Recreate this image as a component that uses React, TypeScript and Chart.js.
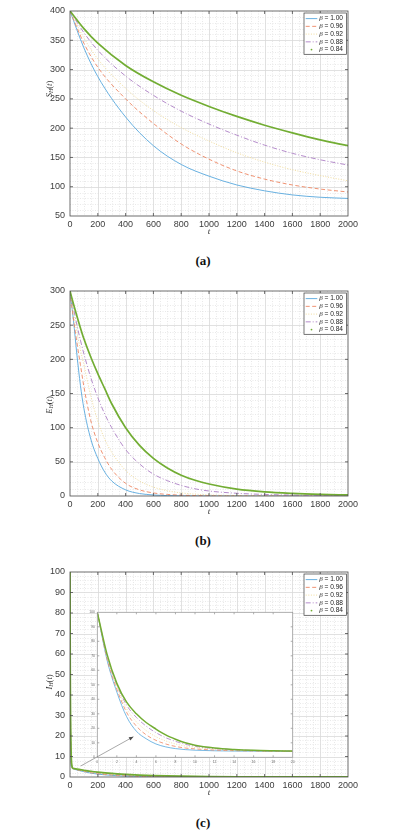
import React, { useEffect, useRef } from 'react';
import { Chart, registerables } from 'chart.js';

Chart.register(...registerables);

// ---------------- Data ----------------
const betaValues = ['1.00', '0.96', '0.92', '0.88', '0.84'];

// (a) S_H(t)
const tA = [0, 100, 200, 400, 600, 800, 1000, 1200, 1400, 1600, 1800, 2000];
const sH_b100 = [400, 337, 288, 219, 170, 138, 118, 103, 93, 86, 82, 80];
const sH_b096 = [400, 345, 304, 250, 208, 173, 147, 127, 113, 103, 96, 91];
const sH_b092 = [400, 354, 318, 268, 230, 201, 178, 158, 142, 129, 119, 110];
const sH_b088 = [400, 363, 333, 289, 256, 229, 207, 188, 171, 157, 146, 137];
const sH_b084 = [400, 370, 345, 307, 279, 256, 237, 220, 205, 192, 180, 170];

// (b) E_H(t)
const tB = [0, 25, 50, 75, 100, 150, 200, 250, 300, 400, 500, 600, 700, 800, 900, 1000, 1200, 1400, 1600, 1800, 2000];
const eH_b100 = [300, 257, 206, 162, 128, 83, 55, 35, 22, 9, 3.6, 1.5, 0.6, 0.25, 0.1, 0.04, 0, 0, 0, 0, 0];
const eH_b096 = [300, 259, 224, 192, 160, 110, 78, 56, 39, 18.5, 9, 4.5, 2.3, 1.2, 0.6, 0.3, 0.1, 0, 0, 0, 0];
const eH_b092 = [300, 268, 240, 214, 192, 146, 110, 83, 64, 37.5, 22, 13, 7.7, 4.5, 2.7, 1.6, 0.6, 0.3, 0.15, 0.05, 0];
const eH_b088 = [300, 275, 250, 228, 208, 173, 144, 120, 100, 68, 47, 32, 22.5, 15.5, 10.5, 7.3, 4, 2.3, 1.4, 0.9, 0.6];
const eH_b084 = [300, 281, 263, 246, 230, 203, 179, 157, 135, 100, 74, 55, 41, 30.5, 23, 17.5, 10, 6, 3.8, 2.4, 1.5];

// (c) I_H(t): early part (also shown in the inset) and late part
const tInset = [0, 1, 2, 3, 4, 5, 6, 7, 8, 9, 10, 12, 14, 16, 18, 20];
const iH_b100_early = [100, 67, 45, 28, 18, 12.8, 9.2, 7.2, 6.0, 5.3, 4.9, 4.5, 4.3, 4.2, 4.1, 4.05];
const iH_b096_early = [100, 68, 47, 31, 21.5, 15.5, 11.7, 9.2, 7.5, 6.4, 5.8, 5.0, 4.6, 4.4, 4.2, 4.1];
const iH_b092_early = [100, 69, 48.5, 33.5, 24.5, 18.5, 14.2, 11.3, 9.2, 7.8, 6.8, 5.6, 4.9, 4.5, 4.3, 4.2];
const iH_b088_early = [100, 70, 50, 36, 27.5, 21.5, 17, 13.5, 11, 9, 7.6, 6.0, 5.2, 4.7, 4.4, 4.25];
const iH_b084_early = [100, 71, 51, 38, 30, 24, 19.5, 15.5, 12.5, 10, 8.3, 6.4, 5.4, 4.8, 4.5, 4.3];

const tLateC = [30, 50, 100, 150, 200, 300, 400, 500, 600, 800, 1000, 1200, 1400, 1600, 1800, 2000];
const iH_b100_late = [3.8, 3.4, 2.6, 1.9, 1.4, 0.8, 0.45, 0.25, 0.15, 0.05, 0.02, 0, 0, 0, 0, 0];
const iH_b096_late = [3.9, 3.5, 2.8, 2.1, 1.6, 1.0, 0.6, 0.35, 0.22, 0.1, 0.04, 0.02, 0.01, 0, 0, 0];
const iH_b092_late = [4.0, 3.6, 3.0, 2.4, 1.9, 1.25, 0.8, 0.5, 0.33, 0.15, 0.07, 0.03, 0.02, 0.01, 0, 0];
const iH_b088_late = [4.05, 3.7, 3.1, 2.6, 2.1, 1.45, 1.0, 0.7, 0.48, 0.24, 0.12, 0.06, 0.03, 0.02, 0.01, 0];
const iH_b084_late = [4.1, 3.8, 3.3, 2.8, 2.4, 1.75, 1.3, 0.95, 0.7, 0.4, 0.23, 0.13, 0.08, 0.05, 0.03, 0.02];

// arrow annotation in inset data units (tail, head)
const arrowTail = [-1.7, -6];
const arrowHead = [3.7, 14.2];

// ---------------- Styles ----------------
const LINE_COLORS = ['#58a8de', '#ee8763', '#f1dc9c', '#ad7fc5', '#72ad33'];
const LINE_DASH: number[][] = [[], [4, 2.5], [1, 1.6], [5, 2, 1, 2], []];
const LINE_WIDTH = [0.9, 0.9, 1.0, 0.9, 1.7];
const AXIS_COLOR = '#4a4a4a';
const TICK_COLOR = '#3c3c3c';
const SANS = '"Liberation Sans", Arial, Helvetica, sans-serif';
const SERIF = '"Liberation Serif", "Times New Roman", "DejaVu Serif", serif';

function buildDatasets(t: number[], series: number[][], wScale = 1) {
  return series.map((vals, i) => ({
    label: 'β = ' + betaValues[i],
    data: vals.map((v, k) => ({ x: t[k], y: v })),
    borderColor: LINE_COLORS[i],
    backgroundColor: LINE_COLORS[i],
    borderDash: LINE_DASH[i],
    borderWidth: LINE_WIDTH[i] * wScale,
    pointRadius: 0,
    cubicInterpolationMode: 'monotone',
    fill: false,
    order: 4 - i,
  }));
}

function isMajor(v: number, step: number) {
  return Math.abs(v / step - Math.round(v / step)) < 1e-6;
}

function drawYLabel(ctx: any, cx: number, cy: number, main: string, sub: string) {
  ctx.save();
  ctx.translate(cx, cy);
  ctx.rotate(-Math.PI / 2);
  ctx.fillStyle = '#333';
  ctx.textBaseline = 'middle';
  ctx.textAlign = 'left';
  const parts: [string, string, number][] = [
    [main, 'italic 8.5px ' + SERIF, 0],
    [sub, 'italic 6px ' + SERIF, 2],
    ['(', '8.5px ' + SERIF, 0],
    ['t', 'italic 8.5px ' + SERIF, 0],
    [')', '8.5px ' + SERIF, 0],
  ];
  let total = 0;
  const widths = parts.map(([s, f]) => {
    ctx.font = f;
    const w = ctx.measureText(s).width;
    total += w;
    return w;
  });
  let x = -total / 2;
  parts.forEach(([s, f, dy], i) => {
    ctx.font = f;
    ctx.fillText(s, x, dy);
    x += widths[i];
  });
  ctx.restore();
}

function drawLegend(ctx: any, ca: any) {
  const w = 42.5;
  const h = 41.3;
  const left = ca.right - 1.5 - w;
  const top = ca.top + 2;
  ctx.save();
  ctx.fillStyle = '#ffffff';
  ctx.fillRect(left, top, w, h);
  ctx.strokeStyle = '#3a3a3a';
  ctx.lineWidth = 0.7;
  ctx.strokeRect(left, top, w, h);
  for (let i = 0; i < 5; i++) {
    const yy = top + 5.6 + i * 7.75;
    if (i === 4) {
      ctx.fillStyle = LINE_COLORS[i];
      ctx.beginPath();
      ctx.arc(left + 7.5, yy, 0.9, 0, Math.PI * 2);
      ctx.fill();
    } else {
      ctx.strokeStyle = LINE_COLORS[i];
      ctx.lineWidth = LINE_WIDTH[i];
      ctx.setLineDash(LINE_DASH[i]);
      ctx.beginPath();
      ctx.moveTo(left + 1.7, yy);
      ctx.lineTo(left + 13.3, yy);
      ctx.stroke();
      ctx.setLineDash([]);
    }
    ctx.fillStyle = '#222';
    ctx.textBaseline = 'middle';
    ctx.textAlign = 'left';
    ctx.font = 'italic 7px ' + SERIF;
    ctx.fillText('β', left + 15.2, yy);
    const bw = ctx.measureText('β').width;
    ctx.font = '6.6px ' + SANS;
    ctx.fillText(' = ' + betaValues[i], left + 15.2 + bw, yy);
  }
  ctx.restore();
}

const matlabPlugin: any = {
  id: 'matlab',
  beforeDatasetsDraw(chart: any, _a: any, o: any) {
    const { ctx, chartArea: ca } = chart;
    const xs = chart.scales.x;
    const ys = chart.scales.y;
    ctx.save();
    ctx.fillStyle = '#ffffff';
    ctx.fillRect(ca.left, ca.top, ca.right - ca.left, ca.bottom - ca.top);
    if (o.grid) {
      // minor grid
      ctx.setLineDash([1, 1.5]);
      ctx.strokeStyle = '#e0e0e0';
      ctx.lineWidth = 0.7;
      ctx.beginPath();
      for (let k = 1; ; k++) {
        const v = xs.min + k * o.xMinor;
        if (v >= xs.max - 1e-9) break;
        if (isMajor(v, o.xMajor)) continue;
        const p = Math.round(xs.getPixelForValue(v)) + 0.5;
        ctx.moveTo(p, ca.top);
        ctx.lineTo(p, ca.bottom);
      }
      for (let k = 1; ; k++) {
        const v = ys.min + k * o.yMinor;
        if (v >= ys.max - 1e-9) break;
        if (isMajor(v, o.yMajor)) continue;
        const p = Math.round(ys.getPixelForValue(v)) + 0.5;
        ctx.moveTo(ca.left, p);
        ctx.lineTo(ca.right, p);
      }
      ctx.stroke();
      // major grid
      ctx.setLineDash([]);
      ctx.strokeStyle = '#d9d9d9';
      ctx.lineWidth = 0.8;
      ctx.beginPath();
      for (let k = 1; ; k++) {
        const v = xs.min + k * o.xMajor;
        if (v >= xs.max - 1e-9) break;
        const p = Math.round(xs.getPixelForValue(v)) + 0.5;
        ctx.moveTo(p, ca.top);
        ctx.lineTo(p, ca.bottom);
      }
      for (let k = 1; ; k++) {
        const v = ys.min + k * o.yMajor;
        if (v >= ys.max - 1e-9) break;
        const p = Math.round(ys.getPixelForValue(v)) + 0.5;
        ctx.moveTo(ca.left, p);
        ctx.lineTo(ca.right, p);
      }
      ctx.stroke();
    }
    ctx.restore();
  },
  afterDatasetsDraw(chart: any, _a: any, o: any) {
    const { ctx, chartArea: ca } = chart;
    const xs = chart.scales.x;
    const ys = chart.scales.y;
    ctx.save();
    ctx.setLineDash([]);
    ctx.strokeStyle = o.axisColor || AXIS_COLOR;
    ctx.lineWidth = 0.8;
    ctx.strokeRect(ca.left, ca.top, ca.right - ca.left, ca.bottom - ca.top);
    const tl = o.tickLen || 3;
    ctx.beginPath();
    for (let k = 1; ; k++) {
      const v = xs.min + k * o.xMajor;
      if (v >= xs.max - 1e-9) break;
      const p = xs.getPixelForValue(v);
      ctx.moveTo(p, ca.bottom);
      ctx.lineTo(p, ca.bottom - tl);
      ctx.moveTo(p, ca.top);
      ctx.lineTo(p, ca.top + tl);
    }
    for (let k = 1; ; k++) {
      const v = ys.min + k * o.yMajor;
      if (v >= ys.max - 1e-9) break;
      const p = ys.getPixelForValue(v);
      ctx.moveTo(ca.left, p);
      ctx.lineTo(ca.left + tl, p);
      ctx.moveTo(ca.right, p);
      ctx.lineTo(ca.right - tl, p);
    }
    ctx.stroke();

    if (o.xlabel) {
      ctx.fillStyle = '#333';
      ctx.font = 'italic 9px ' + SERIF;
      ctx.textAlign = 'center';
      ctx.textBaseline = 'middle';
      ctx.fillText('t', (ca.left + ca.right) / 2, ca.bottom + 15.5);
    }
    if (o.ylabel) {
      drawYLabel(ctx, ca.left - 20.5, ca.top + o.ylabelOffset, o.ylabel, 'H');
    }
    if (o.legend) drawLegend(ctx, ca);
    if (o.arrow) {
      const x0 = xs.getPixelForValue(arrowTail[0]);
      const y0 = ys.getPixelForValue(arrowTail[1]);
      const x1 = xs.getPixelForValue(arrowHead[0]);
      const y1 = ys.getPixelForValue(arrowHead[1]);
      const ang = Math.atan2(y1 - y0, x1 - x0);
      ctx.strokeStyle = '#6e6e6e';
      ctx.fillStyle = '#4a4a4a';
      ctx.lineWidth = 0.6;
      ctx.beginPath();
      ctx.moveTo(x0, y0);
      ctx.lineTo(x1, y1);
      ctx.stroke();
      const L = 4.5;
      const W = 1.8;
      ctx.beginPath();
      ctx.moveTo(x1, y1);
      ctx.lineTo(x1 - L * Math.cos(ang) + W * Math.sin(ang), y1 - L * Math.sin(ang) - W * Math.cos(ang));
      ctx.lineTo(x1 - L * Math.cos(ang) - W * Math.sin(ang), y1 - L * Math.sin(ang) + W * Math.cos(ang));
      ctx.closePath();
      ctx.fill();
    }
    ctx.restore();
  },
};

function mainConfig(datasets: any[], yMin: number, yMax: number, yStep: number, plug: any) {
  return {
    type: 'line',
    data: { datasets },
    options: {
      responsive: false,
      animation: false,
      events: [],
      layout: { padding: { left: 0, right: 51, top: 11, bottom: 0 } },
      scales: {
        x: {
          type: 'linear',
          min: 0,
          max: 2000,
          grid: { display: false, drawTicks: false },
          border: { display: false },
          ticks: {
            stepSize: 200,
            maxRotation: 0,
            autoSkip: false,
            padding: 3,
            color: TICK_COLOR,
            font: { family: SANS, size: 9 },
            callback: (v: any) => String(v),
          },
          afterFit: (s: any) => {
            s.height = 29;
          },
        },
        y: {
          type: 'linear',
          min: yMin,
          max: yMax,
          grid: { display: false, drawTicks: false },
          border: { display: false },
          ticks: {
            stepSize: yStep,
            autoSkip: false,
            padding: 5,
            color: TICK_COLOR,
            font: { family: SANS, size: 9 },
            callback: (v: any) => String(v),
          },
          afterFit: (s: any) => {
            s.width = 70;
          },
        },
      },
      plugins: { legend: { display: false }, tooltip: { enabled: false }, matlab: plug },
    },
    plugins: [matlabPlugin],
  };
}

function insetConfig(datasets: any[]) {
  return {
    type: 'line',
    data: { datasets },
    options: {
      responsive: false,
      animation: false,
      events: [],
      layout: { padding: { left: 15.3, right: 7.3, top: 12.3, bottom: 0 } },
      scales: {
        x: {
          type: 'linear',
          min: 0,
          max: 20,
          grid: { display: false, drawTicks: false },
          border: { display: false },
          ticks: {
            stepSize: 2,
            maxRotation: 0,
            autoSkip: false,
            padding: 2.5,
            color: '#6a6a6a',
            font: { family: SANS, size: 3.4 },
            callback: (v: any) => String(v),
          },
          afterFit: (s: any) => {
            s.height = 17.7;
          },
        },
        y: {
          type: 'linear',
          min: 0,
          max: 100,
          grid: { display: false, drawTicks: false },
          border: { display: false },
          ticks: {
            stepSize: 10,
            autoSkip: false,
            padding: 2.3,
            color: '#6a6a6a',
            font: { family: SANS, size: 3.4 },
            callback: (v: any) => String(v),
          },
          afterFit: (s: any) => {
            s.width = 12;
          },
        },
      },
      plugins: {
        legend: { display: false },
        tooltip: { enabled: false },
        matlab: { grid: false, xMajor: 2, yMajor: 10, tickLen: 2, axisColor: '#9a9a9a', arrow: true },
      },
    },
    plugins: [matlabPlugin],
  };
}

export default function App() {
  const refA = useRef<HTMLCanvasElement>(null);
  const refB = useRef<HTMLCanvasElement>(null);
  const refC = useRef<HTMLCanvasElement>(null);
  const refI = useRef<HTMLCanvasElement>(null);

  useEffect(() => {
    const charts: Chart[] = [];
    const dsA = buildDatasets(tA, [sH_b100, sH_b096, sH_b092, sH_b088, sH_b084]);
    const dsB = buildDatasets(tB, [eH_b100, eH_b096, eH_b092, eH_b088, eH_b084]);
    const tC = tInset.concat(tLateC);
    const dsC = buildDatasets(tC, [
      iH_b100_early.concat(iH_b100_late),
      iH_b096_early.concat(iH_b096_late),
      iH_b092_early.concat(iH_b092_late),
      iH_b088_early.concat(iH_b088_late),
      iH_b084_early.concat(iH_b084_late),
    ]);
    const dsI = buildDatasets(tInset, [iH_b100_early, iH_b096_early, iH_b092_early, iH_b088_early, iH_b084_early], 0.9);

    charts.push(
      new Chart(refA.current as any, mainConfig(dsA, 50, 400, 50, {
        grid: true, xMajor: 200, xMinor: 50, yMajor: 50, yMinor: 10,
        legend: true, xlabel: true, ylabel: 'S', ylabelOffset: 78,
      }) as any)
    );
    charts.push(
      new Chart(refB.current as any, mainConfig(dsB, 0, 300, 50, {
        grid: true, xMajor: 200, xMinor: 50, yMajor: 50, yMinor: 10,
        legend: true, xlabel: true, ylabel: 'E', ylabelOffset: 114,
      }) as any)
    );
    charts.push(
      new Chart(refC.current as any, mainConfig(dsC, 0, 100, 10, {
        grid: true, xMajor: 200, xMinor: 50, yMajor: 10, yMinor: 2,
        legend: true, xlabel: true, ylabel: 'I', ylabelOffset: 110,
      }) as any)
    );
    charts.push(new Chart(refI.current as any, insetConfig(dsI) as any));
    return () => charts.forEach((c) => c.destroy());
  }, []);

  const caption = (text: string, cy: number) => (
    <div
      style={{
        position: 'absolute',
        left: 0,
        width: 406,
        top: cy - 8,
        height: 16,
        lineHeight: '16px',
        textAlign: 'center',
        fontFamily: SERIF,
        fontWeight: 'bold',
        fontSize: 13,
        color: '#111',
      }}
    >
      {text}
    </div>
  );

  return (
    <div style={{ position: 'fixed', left: 0, top: 0, width: 399, height: 834, background: '#ffffff', overflow: 'hidden' }}>
      <canvas ref={refA} width={399} height={245} style={{ position: 'absolute', left: 0, top: 0 }} />
      {caption('(a)', 261)}
      <canvas ref={refB} width={399} height={245} style={{ position: 'absolute', left: 0, top: 280 }} />
      {caption('(b)', 541)}
      <canvas ref={refC} width={399} height={245} style={{ position: 'absolute', left: 0, top: 561 }} />
      <canvas ref={refI} width={230} height={175} style={{ position: 'absolute', left: 70, top: 600 }} />
      {caption('(c)', 823)}
    </div>
  );
}
